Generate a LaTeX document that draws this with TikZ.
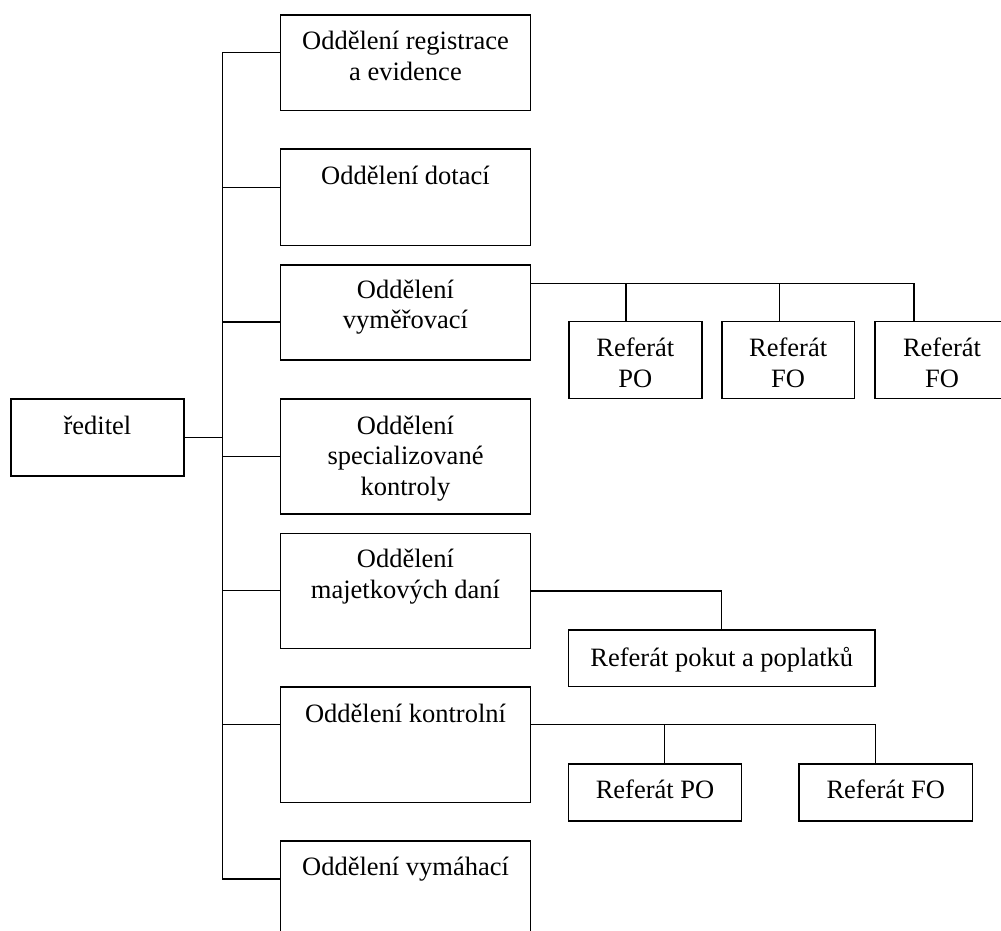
\documentclass[tikz,border=0pt]{standalone}
\usepackage{fontspec}
\setmainfont{Liberation Serif}
% box text: width, height, top-to-first-baseline, lines
\newcommand\unittext[4]{\parbox[t][#2pt][t]{#1pt}{\centering\rule{0pt}{#3pt}#4\par}}
\begin{document}
\begin{tikzpicture}[x=1pt,y=-1pt,line width=1.6pt,line join=miter,
  unit/.style={draw,inner sep=0pt,outer sep=0pt,anchor=north west,
    font=\fontsize{26.5}{30.8}\selectfont}]
\clip (0,0) rectangle (1001,931);
\fill[white] (0,0) rectangle (1001,931);

% director
\node[unit] (dir) at (11,399) {\unittext{173}{77}{35.5}{ředitel}};

% departments
\node[unit] (b1) at (280.5,15)    {\unittext{250}{95.5}{35}{Oddělení registrace\\a evidence}};
\node[unit] (b2) at (280.5,149)   {\unittext{250}{96.5}{35}{Oddělení dotací}};
\node[unit] (b3) at (280.5,265)   {\unittext{250}{95}{33}{Oddělení\\vyměřovací}};
\node[unit] (b4) at (280.5,399)   {\unittext{250}{115}{35}{Oddělení\\specializované\\kontroly}};
\node[unit] (b5) at (280.5,533.5) {\unittext{250}{115}{34}{Oddělení\\majetkových daní}};
\node[unit] (b6) at (280.5,687)   {\unittext{250}{115.5}{35}{Oddělení kontrolní}};
\node[unit] (b7) at (280.5,841)   {\unittext{250}{130}{34}{Oddělení vymáhací}};

% sections
\node[unit] (r31) at (569,321.5)   {\unittext{132.7}{77}{35}{Referát\\PO}};
\node[unit] (r32) at (722,321.5)   {\unittext{132.3}{77}{35}{Referát\\FO}};
\node[unit] (r33) at (875,321.5)   {\unittext{134}{77}{35}{Referát\\FO}};
\node[unit] (pk)  at (568.5,630)   {\unittext{306.5}{56.5}{36.5}{Referát pokut a poplatků}};
\node[unit] (r61) at (568.5,764)   {\unittext{173}{57}{34.3}{Referát PO}};
\node[unit] (r62) at (799,764)     {\unittext{173.5}{57}{34.3}{Referát FO}};

% trunk junctions
\coordinate (j1) at (222.5,52.5);
\coordinate (j2) at (222.5,187.5);
\coordinate (j3) at (222.5,322);
\coordinate (jd) at (222.5,437.5);
\coordinate (j4) at (222.5,456.5);
\coordinate (j5) at (222.5,590.5);
\coordinate (j6) at (222.5,724.5);
\coordinate (j7) at (222.5,879);

\draw (j1 -| b1.west) -- (j1) -- (j7) -- (j7 -| b7.west);
\draw (j2) -- (j2 -| b2.west);
\draw (j3) -- (j3 -| b3.west);
\draw (j4) -- (j4 -| b4.west);
\draw (j5) -- (j5 -| b5.west);
\draw (j6) -- (j6 -| b6.west);
\draw (dir.east |- jd) -- (jd);

% assessment sections
\coordinate (k3)  at (914,283.5);
\coordinate (d31) at (626,283.5);
\coordinate (d32) at (779.5,283.5);
\draw (b3.east |- k3) -- (k3) -- (k3 |- r33.north);
\draw (d31) -- (d31 |- r31.north);
\draw (d32) -- (d32 |- r32.north);

% property tax section
\coordinate (k5) at (721.5,591);
\draw (b5.east |- k5) -- (k5) -- (k5 |- pk.north);

% inspection sections
\coordinate (k6)  at (875.5,724.5);
\coordinate (d61) at (664.5,724.5);
\draw (b6.east |- k6) -- (k6) -- (k6 |- r62.north);
\draw (d61) -- (d61 |- r61.north);
\end{tikzpicture}
\end{document}
